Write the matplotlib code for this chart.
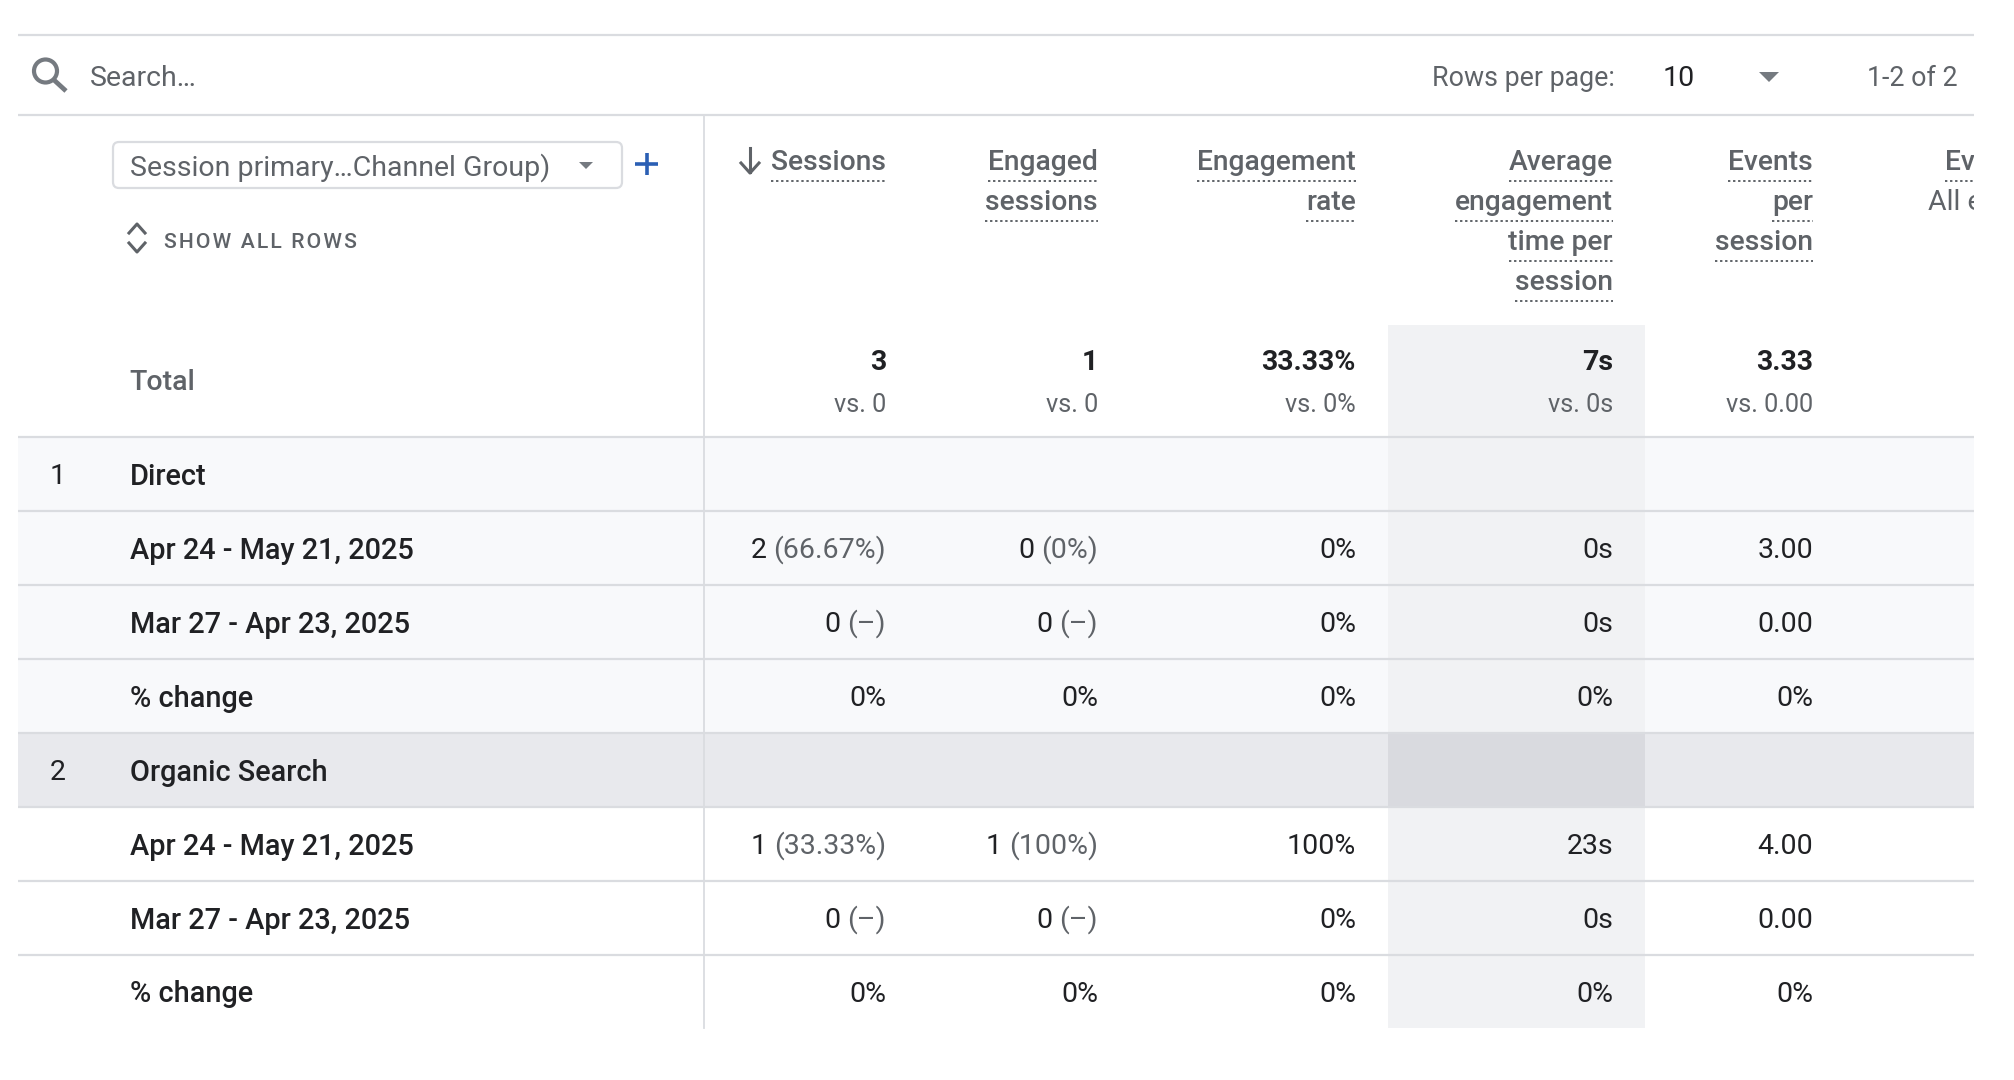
import matplotlib
matplotlib.use('Agg')
import matplotlib.pyplot as plt
from matplotlib.patches import Rectangle, FancyBboxPatch, Polygon, Circle

plt.rcParams['font.family'] = ['Roboto', 'DejaVu Sans']

# table content
headers = [['Sessions'], ['Engaged', 'sessions'], ['Engagement', 'rate'],
           ['Average', 'engagement', 'time per', 'session'], ['Events', 'per', 'session']]
totals = ['3', '1', '33.33%', '7s', '3.33']
totals_vs = ['vs. 0', 'vs. 0', 'vs. 0%', 'vs. 0s', 'vs. 0.00']
row_labels = ['Direct', 'Apr 24 - May 21, 2025', 'Mar 27 - Apr 23, 2025', '% change',
              'Organic Search', 'Apr 24 - May 21, 2025', 'Mar 27 - Apr 23, 2025', '% change']
row_ranks = ['1', '', '', '', '2', '', '', '']
sessions = [None, ('2', '(66.67%)'), ('0', '(–)'), '0%', None, ('1', '(33.33%)'), ('0', '(–)'), '0%']
engaged = [None, ('0', '(0%)'), ('0', '(–)'), '0%', None, ('1', '(100%)'), ('0', '(–)'), '0%']
eng_rate = [None, '0%', '0%', '0%', None, '100%', '0%', '0%']
avg_time = [None, '0s', '0s', '0%', None, '23s', '0s', '0%']
events_per = [None, '3.00', '0.00', '0%', None, '4.00', '0.00', '0%']
columns = [sessions, engaged, eng_rate, avg_time, events_per]

# layout in reference pixels
W, H = 2014, 1080
L, R = 18, 1974
col_right = [886, 1098, 1356, 1613, 1813]
row_edges = [437, 511, 585, 659, 733, 807, 881, 955, 1028]
hl_x0, hl_x1, hl_y0 = 1388, 1645, 325
split_x = 704
label_x, rank_x = 130, 50
header_y = [160, 200, 240, 280]
dot_y = [181, 221, 261, 301]
DOTS = (0, (1.2, 1.4))

DARK, GREY, SOFT = '#202124', '#5f6368', '#757a80'
LINE = '#dadce0'
FS = 20.5

fig = plt.figure(figsize=(W / 100, H / 100), dpi=100, facecolor='white')
ax = fig.add_axes([0, 0, 1, 1])
ax.set_xlim(0, W)
ax.set_ylim(H, 0)
ax.axis('off')
rend = fig.canvas.get_renderer()


def txt(x, y, s, size=FS, color=DARK, ha='left', weight='normal'):
    return ax.text(x, y, s, fontsize=size, color=color, ha=ha, va='center_baseline', fontweight=weight, zorder=5)


def tri(cx, y0, y1, hw, color=SOFT):
    ax.add_patch(Polygon([(cx - hw, y0), (cx + hw, y0), (cx, y1)], fc=color, ec='none', zorder=5))


# row bands and highlighted column
for i in range(8):
    y0, y1 = row_edges[i], row_edges[i + 1]
    band = '#e8e9ed' if i == 4 else ('#f8f9fb' if i < 4 else 'white')
    ax.add_patch(Rectangle((L, y0), R - L, y1 - y0, fc=band, ec='none', zorder=1))
    ax.add_patch(Rectangle((hl_x0, y0), hl_x1 - hl_x0, y1 - y0, fc='#d9dadf' if i == 4 else '#f1f2f4', ec='none', zorder=2))
ax.add_patch(Rectangle((hl_x0, hl_y0), hl_x1 - hl_x0, row_edges[0] - hl_y0, fc='#f1f2f4', ec='none', zorder=2))

# rules
for y in [35, 115] + row_edges[:-1]:
    ax.plot([L, R], [y, y], color=LINE, lw=1.6, zorder=3, solid_capstyle='butt')
ax.plot([split_x, split_x], [115, row_edges[-1]], color=LINE, lw=1.3, zorder=3)

# search bar
ax.add_patch(Circle((45.5, 71), 11.5, fc='none', ec=SOFT, lw=3, zorder=5))
ax.plot([54, 66], [80, 91], color=SOFT, lw=3.4, zorder=5, solid_capstyle='butt')
txt(90, 76, 'Search…', size=20.5, color=GREY)
txt(1432, 75, 'Rows per page:', size=19.3, color=GREY)
txt(1663, 76, '10', size=20.5, color=DARK)
tri(1769, 72, 82, 10)
txt(1867, 75, '1-2 of 2', size=19.3, color=GREY)

# dimension picker
ax.add_patch(FancyBboxPatch((119, 148), 497, 34, boxstyle='round,pad=6,rounding_size=6', fc='white', ec=LINE, lw=1.6, zorder=4))
txt(130, 164, 'Session primary…Channel Group)', color=GREY)
tri(586, 162, 169, 7)
ax.plot([635, 658], [164, 164], color='#2b5fb4', lw=2.6, zorder=5, solid_capstyle='butt')
ax.plot([646.5, 646.5], [153, 175], color='#2b5fb4', lw=2.6, zorder=5, solid_capstyle='butt')
ax.plot([129, 137, 145], [233, 224, 233], color=GREY, lw=2.2, zorder=5)
ax.plot([129, 137, 145], [243, 252, 243], color=GREY, lw=2.2, zorder=5)
txt(164, 240, '\u200a'.join('SHOW ALL ROWS'), size=15.2, color=GREY, weight='medium')

# headers with dotted underlines
ax.plot([750, 750], [148, 172], color=GREY, lw=2.2, zorder=5)
ax.plot([741, 750, 759], [163, 173, 163], color=GREY, lw=2.2, zorder=5)
for x, lines in zip(col_right, headers):
    for j, s in enumerate(lines):
        t = txt(x, header_y[j], s, size=20.3, ha='right', color=GREY, weight='medium')
        bb = t.get_window_extent(rend)
        ax.plot([bb.x0, bb.x1], [dot_y[j], dot_y[j]], color=GREY, lw=1.4, ls=DOTS, zorder=5)

# next column, cut by the table edge
clip = Rectangle((L, 0), R - L, H, transform=ax.transData)
t1 = txt(1945, header_y[0], 'Ev', size=20.3, color=GREY, weight='medium')
t2 = txt(1928, header_y[1], 'All e', color=GREY)
for t in (t1, t2):
    t.set_clip_path(clip)
    t.set_clip_on(True)
ax.plot([1945, 1974], [dot_y[0], dot_y[0]], color=GREY, lw=1.4, ls=DOTS, zorder=5)

# totals
txt(label_x - 1, 380, 'Total', color=GREY, weight='medium')
for x, a, b in zip(col_right, totals, totals_vs):
    txt(x, 360, a, ha='right', weight='bold')
    txt(x, 403, b, size=18.2, ha='right', color=GREY)

# body rows
for i, (rank, label) in enumerate(zip(row_ranks, row_labels)):
    yc = (row_edges[i] + row_edges[i + 1]) / 2
    if rank:
        txt(rank_x, yc, rank)
    txt(label_x, yc, label, size=20.8, weight='medium')
    for x, col in zip(col_right, columns):
        v = col[i]
        if v is None:
            continue
        if isinstance(v, tuple):
            t = txt(x, yc - 1.5, v[1], ha='right', color=GREY)
            bb = t.get_window_extent(rend)
            txt(bb.x0 - 7, yc, v[0], ha='right')
        else:
            txt(x, yc, v, ha='right')

fig.savefig('out.png', dpi=100)
